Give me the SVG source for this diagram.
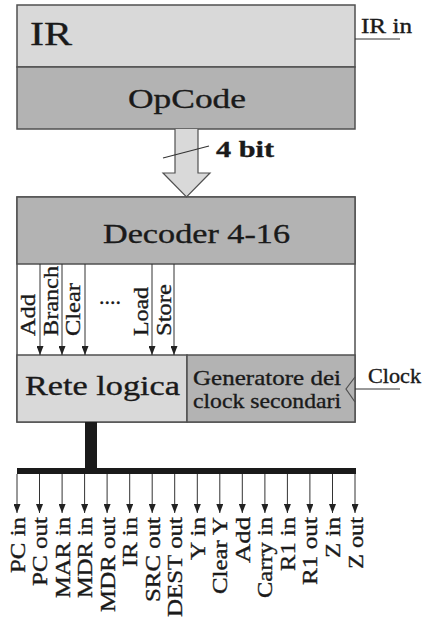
<svg xmlns="http://www.w3.org/2000/svg" width="425" height="618" viewBox="0 0 425 618">
<style>
.t{font-family:"Liberation Serif","Times New Roman",serif;fill:#1a1a1a;stroke:#1a1a1a;stroke-width:0.35}
.box{stroke:#505050;stroke-width:1.5}
.lt{fill:#d9d9d9}
.dk{fill:#b3b3b3}
.sig{stroke:#333;stroke-width:1;fill:none}
.lbl{font-size:22px}
</style>
<defs>
<marker id="ah" viewBox="0 0 10 10" refX="10" refY="5" markerWidth="9" markerHeight="7" markerUnits="userSpaceOnUse" orient="auto" preserveAspectRatio="none">
<path d="M0,0 L10,5 L0,10 z" fill="#222"/>
</marker>
</defs>
<rect width="425" height="618" fill="#fff"/>

<g id="IR">
<rect class="box lt" x="17" y="5" width="338" height="62"/>
<text class="t" x="30" y="45" font-size="33" textLength="42" lengthAdjust="spacingAndGlyphs">IR</text>
</g>
<g id="OpCode">
<rect class="box dk" x="17" y="67" width="338" height="62"/>
<text class="t" x="128" y="108" font-size="27" textLength="118" lengthAdjust="spacingAndGlyphs">OpCode</text>
</g>

<g id="ControlUnit">
<rect x="17" y="197" width="338" height="225" fill="#fff" class="box"/>
</g>
<g id="Decoder">
<rect class="box dk" x="17" y="197" width="338" height="67"/>
<text class="t" x="103" y="243" font-size="27" textLength="187" lengthAdjust="spacingAndGlyphs">Decoder 4-16</text>
</g>
<g id="ReteLogica">
<rect class="box lt" x="17" y="355" width="170" height="67"/>
<text class="t" x="25" y="395" font-size="27" textLength="155" lengthAdjust="spacingAndGlyphs">Rete logica</text>
</g>
<g id="Generatore">
<rect class="box dk" x="187" y="355" width="168" height="67"/>
<text class="t" x="193" y="385" font-size="22" textLength="148" lengthAdjust="spacingAndGlyphs">Generatore dei</text>
<text class="t" x="193" y="408" font-size="22" textLength="148" lengthAdjust="spacingAndGlyphs">clock secondari</text>
<path d="M355,377 L346,389 L355,402" fill="none" stroke="#505050" stroke-width="1.2"/>
</g>

<g id="connectors">
<line x1="355" y1="39" x2="400" y2="39" class="sig"/>
<text class="t" x="361" y="33" font-size="20" textLength="51" lengthAdjust="spacingAndGlyphs">IR in</text>
<line x1="355" y1="389" x2="400" y2="389" class="sig"/>
<text class="t" x="368" y="383" font-size="20" textLength="53" lengthAdjust="spacingAndGlyphs">Clock</text>
<path d="M175,129 L175,173 L163,173 L186.5,197 L210,173 L198,173 L198,129" fill="#d9d9d9" stroke="#505050" stroke-width="1.2"/>
<line x1="163" y1="158" x2="209" y2="146" stroke="#333" stroke-width="1.2"/>
<text class="t" x="216" y="157" font-size="24" font-weight="bold" textLength="58" lengthAdjust="spacingAndGlyphs">4 bit</text>

<line class="sig" x1="40" y1="264" x2="40" y2="355" marker-end="url(#ah)"/>
<line class="sig" x1="62" y1="264" x2="62" y2="355" marker-end="url(#ah)"/>
<line class="sig" x1="85" y1="264" x2="85" y2="355" marker-end="url(#ah)"/>
<line class="sig" x1="152" y1="264" x2="152" y2="355" marker-end="url(#ah)"/>
<line class="sig" x1="174" y1="264" x2="174" y2="355" marker-end="url(#ah)"/>
<text class="t lbl" transform="translate(35,336) rotate(-90)" textLength="42" lengthAdjust="spacingAndGlyphs">Add</text>
<text class="t lbl" transform="translate(58,336) rotate(-90)" textLength="70" lengthAdjust="spacingAndGlyphs">Branch</text>
<text class="t lbl" transform="translate(80,336) rotate(-90)" textLength="53" lengthAdjust="spacingAndGlyphs">Clear</text>
<text class="t lbl" x="110" y="304" text-anchor="middle">....</text>
<text class="t lbl" transform="translate(148,336) rotate(-90)" textLength="49" lengthAdjust="spacingAndGlyphs">Load</text>
<text class="t lbl" transform="translate(171,336) rotate(-90)" textLength="52" lengthAdjust="spacingAndGlyphs">Store</text>

<rect x="85" y="422" width="12" height="48" fill="#1a1a1a"/>
<rect x="17" y="468" width="339" height="6" fill="#1a1a1a"/>
<g class="sig">
<line x1="17" y1="474" x2="17" y2="513" marker-end="url(#ah)"/>
<line x1="39.5" y1="474" x2="39.5" y2="513" marker-end="url(#ah)"/>
<line x1="62.1" y1="474" x2="62.1" y2="513" marker-end="url(#ah)"/>
<line x1="84.6" y1="474" x2="84.6" y2="513" marker-end="url(#ah)"/>
<line x1="107.1" y1="474" x2="107.1" y2="513" marker-end="url(#ah)"/>
<line x1="129.7" y1="474" x2="129.7" y2="513" marker-end="url(#ah)"/>
<line x1="152.2" y1="474" x2="152.2" y2="513" marker-end="url(#ah)"/>
<line x1="174.7" y1="474" x2="174.7" y2="513" marker-end="url(#ah)"/>
<line x1="197.3" y1="474" x2="197.3" y2="513" marker-end="url(#ah)"/>
<line x1="219.8" y1="474" x2="219.8" y2="513" marker-end="url(#ah)"/>
<line x1="242.3" y1="474" x2="242.3" y2="513" marker-end="url(#ah)"/>
<line x1="264.9" y1="474" x2="264.9" y2="513" marker-end="url(#ah)"/>
<line x1="287.4" y1="474" x2="287.4" y2="513" marker-end="url(#ah)"/>
<line x1="309.9" y1="474" x2="309.9" y2="513" marker-end="url(#ah)"/>
<line x1="332.5" y1="474" x2="332.5" y2="513" marker-end="url(#ah)"/>
<line x1="355" y1="474" x2="355" y2="513" marker-end="url(#ah)"/>
</g>
<g class="t lbl" text-anchor="end">
<text transform="translate(24.5,517) rotate(-90)" textLength="56" lengthAdjust="spacingAndGlyphs">PC in</text>
<text transform="translate(47,517) rotate(-90)" textLength="69" lengthAdjust="spacingAndGlyphs">PC out</text>
<text transform="translate(69.6,517) rotate(-90)" textLength="81" lengthAdjust="spacingAndGlyphs">MAR in</text>
<text transform="translate(92.1,517) rotate(-90)" textLength="81" lengthAdjust="spacingAndGlyphs">MDR in</text>
<text transform="translate(114.6,517) rotate(-90)" textLength="95" lengthAdjust="spacingAndGlyphs">MDR out</text>
<text transform="translate(137.2,517) rotate(-90)" textLength="50" lengthAdjust="spacingAndGlyphs">IR in</text>
<text transform="translate(159.7,517) rotate(-90)" textLength="85" lengthAdjust="spacingAndGlyphs">SRC out</text>
<text transform="translate(182.2,517) rotate(-90)" textLength="100" lengthAdjust="spacingAndGlyphs">DEST out</text>
<text transform="translate(204.8,517) rotate(-90)" textLength="43" lengthAdjust="spacingAndGlyphs">Y in</text>
<text transform="translate(227.3,517) rotate(-90)" textLength="77" lengthAdjust="spacingAndGlyphs">Clear Y</text>
<text transform="translate(249.8,517) rotate(-90)" textLength="46" lengthAdjust="spacingAndGlyphs">Add</text>
<text transform="translate(272.4,517) rotate(-90)" textLength="81" lengthAdjust="spacingAndGlyphs">Carry in</text>
<text transform="translate(294.9,517) rotate(-90)" textLength="54" lengthAdjust="spacingAndGlyphs">R1 in</text>
<text transform="translate(317.4,517) rotate(-90)" textLength="68" lengthAdjust="spacingAndGlyphs">R1 out</text>
<text transform="translate(340,517) rotate(-90)" textLength="41" lengthAdjust="spacingAndGlyphs">Z in</text>
<text transform="translate(362.5,517) rotate(-90)" textLength="52" lengthAdjust="spacingAndGlyphs">Z out</text>
</g>
</g>
</svg>
